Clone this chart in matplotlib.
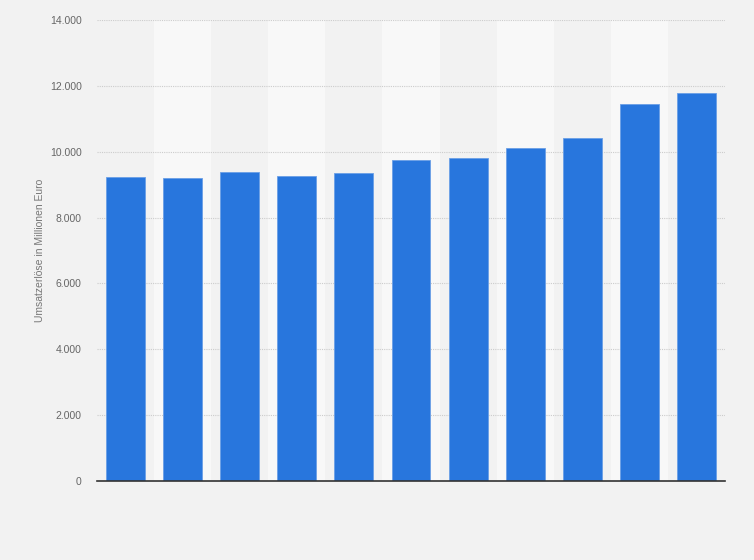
import matplotlib.pyplot as plt

# Werte (Millionen Euro)
jahre = list(range(11))  # keine Achsenbeschriftung sichtbar
umsatz = [9230, 9200, 9390, 9260, 9350, 9750, 9810, 10110, 10410, 11450, 11780]
y_ticks = [0, 2000, 4000, 6000, 8000, 10000, 12000, 14000]
y_labels = ['0', '2.000', '4.000', '6.000', '8.000', '10.000', '12.000', '14.000']

plt.rcParams['font.family'] = ['Liberation Sans', 'DejaVu Sans']

fig = plt.figure(figsize=(7.54, 5.6), dpi=100, facecolor='#f2f2f2')
ax = fig.add_axes([97 / 754, 1 - 481 / 560, 628 / 754, 461 / 560])
ax.set_facecolor('#f2f2f2')

# helle Streifen hinter jeder zweiten Kategorie
for i in jahre:
    if i % 2 == 1:
        ax.axvspan(i - 0.5, i + 0.5, color='#f8f8f8', zorder=0, lw=0)

# gepunktete Gitterlinien
for t in y_ticks[1:]:
    ax.axhline(t, color='#cccccc', lw=0.8, ls=(0, (1, 1)), zorder=1)

ax.bar(jahre, umsatz, width=0.68, color='#2876dd', edgecolor='#6a9fe6',
       linewidth=0.6, zorder=2)

ax.set_xlim(-0.5, 10.5)
ax.set_ylim(0, 14000)
ax.set_xticks([])
ax.set_yticks(y_ticks)
ax.set_yticklabels(y_labels, color='#666666', fontsize=7.5)
ax.tick_params(axis='y', length=0, pad=11)

for s in ['top', 'right', 'left']:
    ax.spines[s].set_visible(False)
ax.spines['bottom'].set_color('#333333')
ax.spines['bottom'].set_linewidth(1.2)
ax.spines['bottom'].set_zorder(3)

fig.text(40 / 754, 1 - 250 / 560, 'Umsatzerlöse in Millionen Euro', rotation=90,
         ha='center', va='center', color='#777777', fontsize=7.5)

fig.savefig('out.png', dpi=100, facecolor=fig.get_facecolor())
